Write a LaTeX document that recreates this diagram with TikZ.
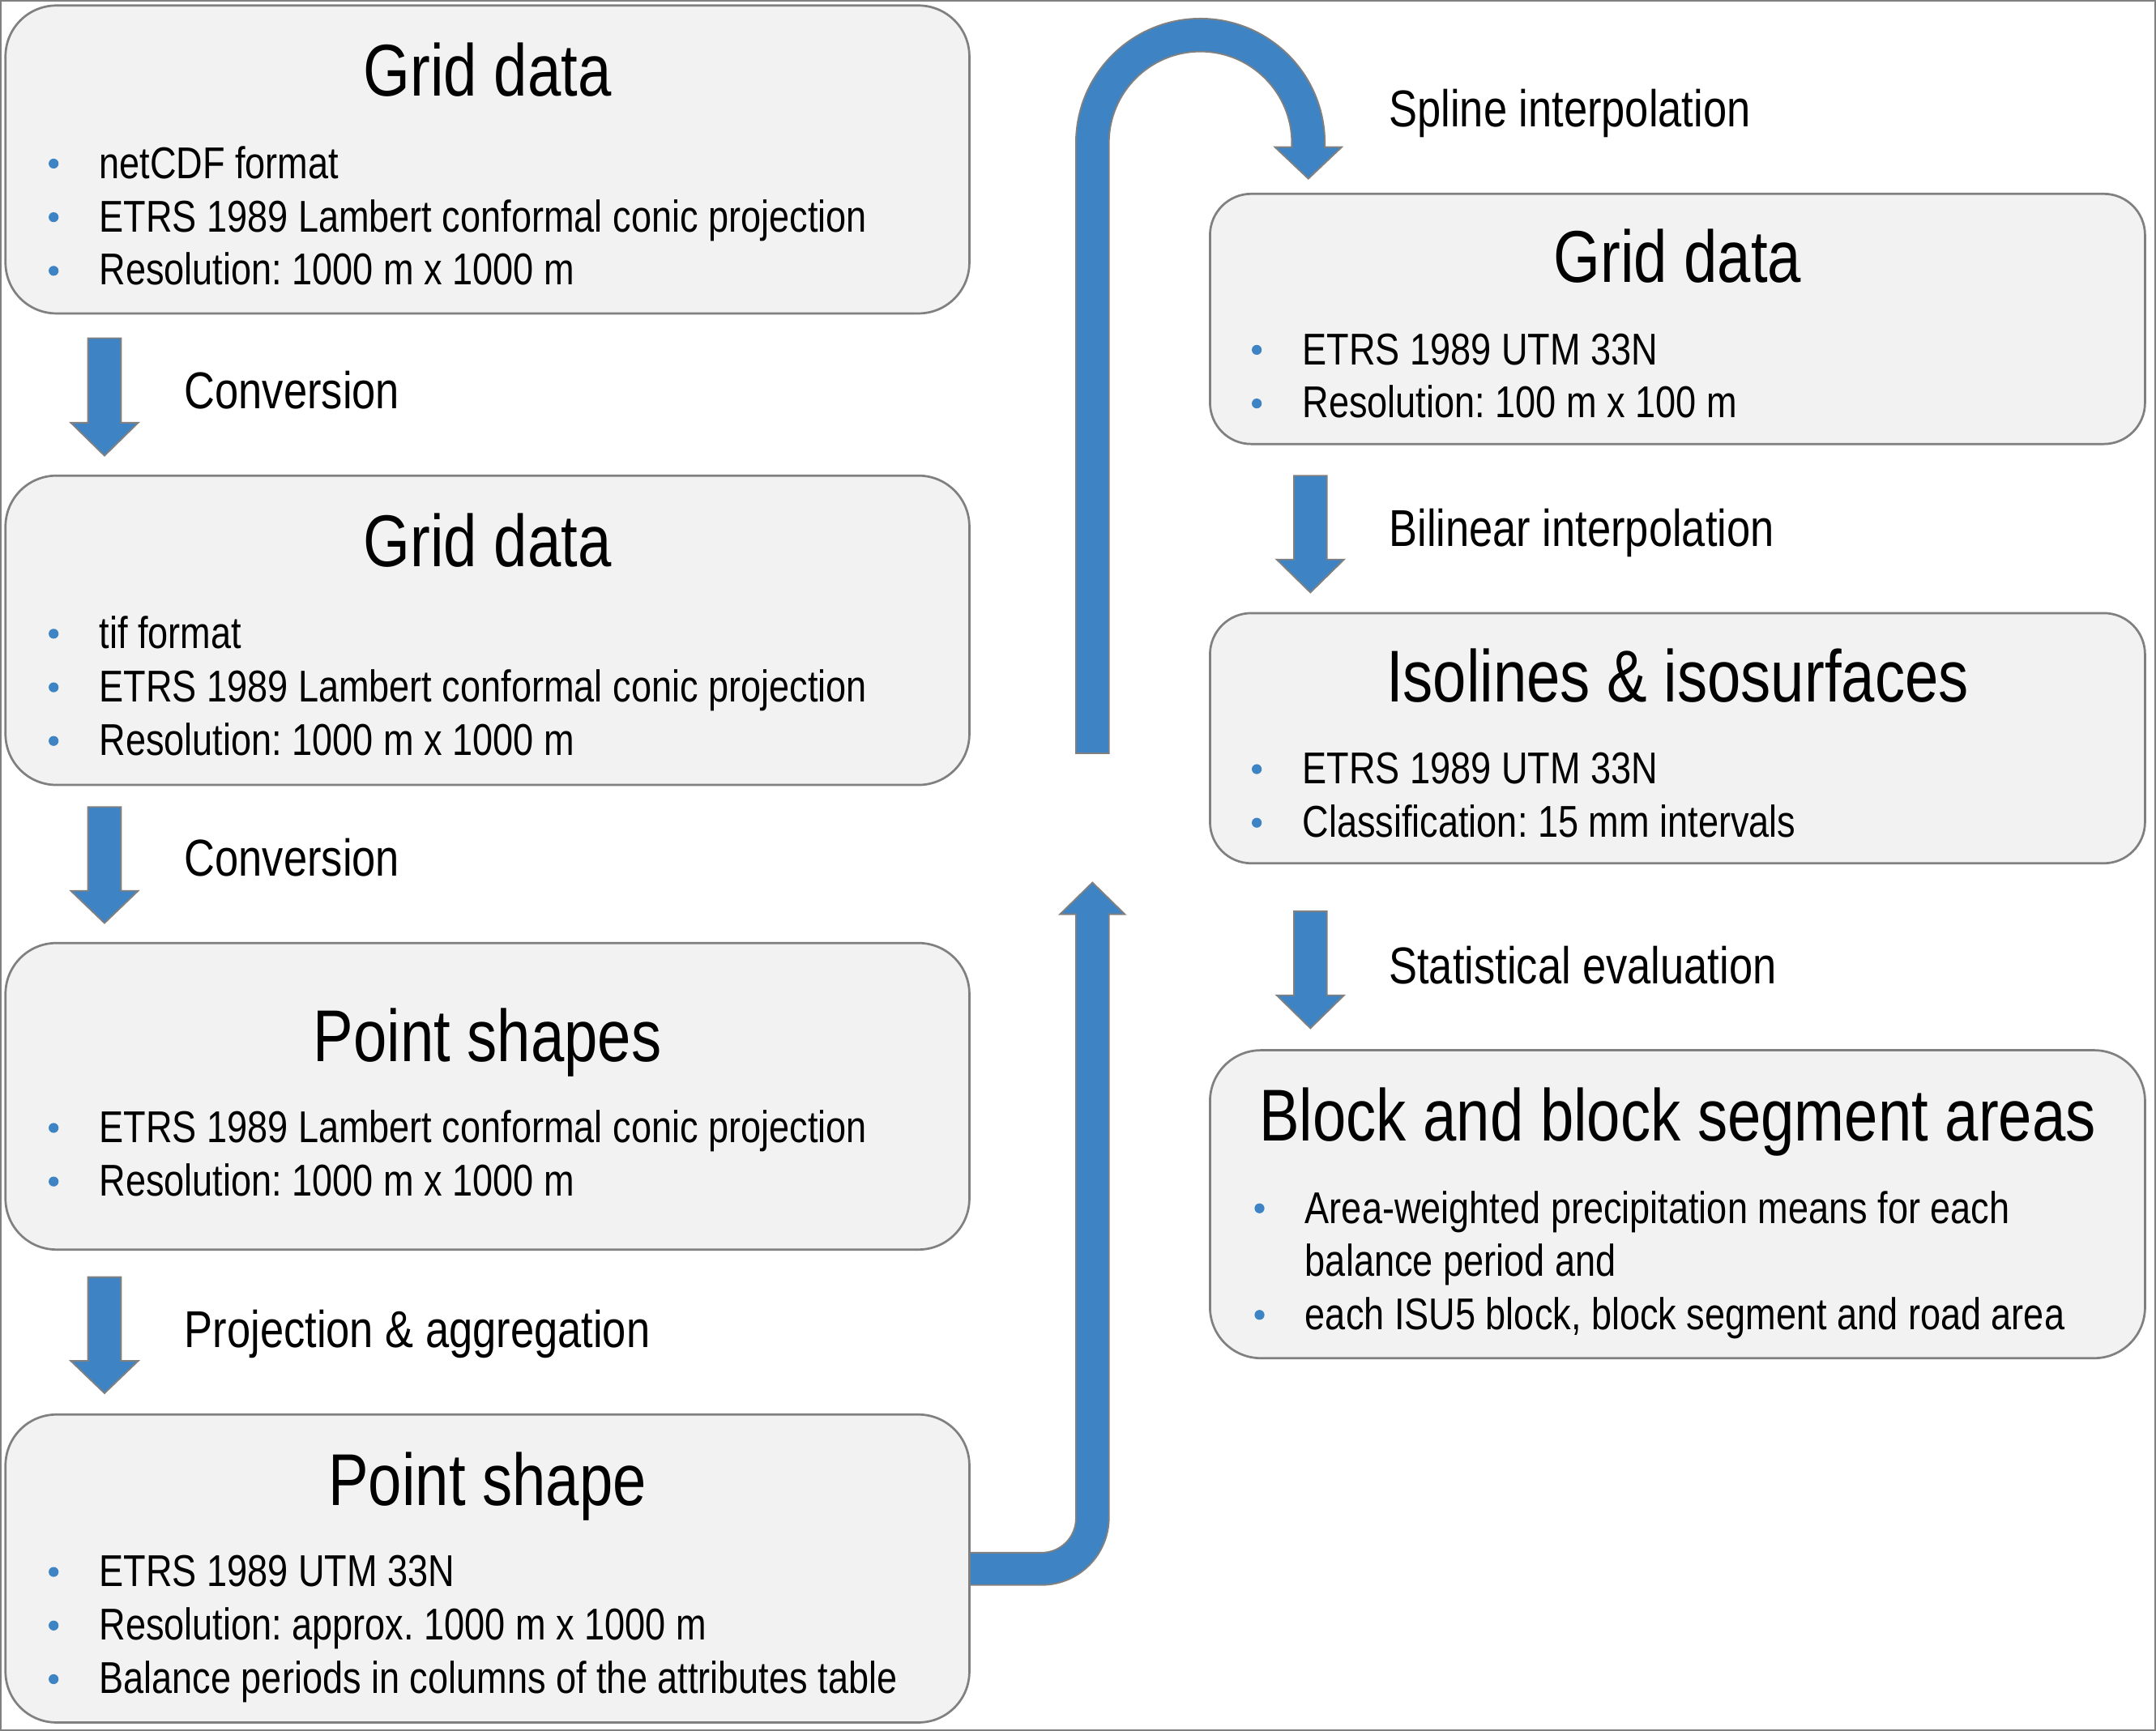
\documentclass[tikz,border=0pt]{standalone}
\usepackage{fontspec}
\setmainfont{Liberation Sans}[FakeStretch=0.82]
\frenchspacing
\definecolor{arrblue}{RGB}{62,132,196}
\definecolor{boxfill}{RGB}{242,242,242}
\definecolor{edgegray}{RGB}{128,128,128}
\tikzset{
  box/.style={draw=edgegray, line width=1.6pt, fill=boxfill, rectangle, rounded corners=37pt, inner sep=0pt},
  sbox/.style={box, rounded corners=30pt},
  ttl/.style={inner sep=0pt, anchor=base, font=\fontsize{53.4}{60}\selectfont\frenchspacing},
  btxt/.style={inner sep=0pt, anchor=base west, font=\fontsize{32.4}{38}\selectfont\frenchspacing},
  lbl/.style={inner sep=0pt, anchor=base west, font=\fontsize{37.7}{44}\selectfont\frenchspacing},
  bul/.style={fill=arrblue},
  barrow/.style={fill=arrblue, draw=edgegray, line width=1.1pt, line join=miter},
}
\newcommand\dnblockarrow[4]{%
  \draw[barrow] (#1-12,#2) -- (#1+12,#2) -- (#1+12,#3) -- (#1+24.5,#3) -- (#1,#4) -- (#1-24.5,#3) -- (#1-12,#3) -- cycle;}
\begin{document}
\begin{tikzpicture}[x=1pt, y=-1pt]
\useasboundingbox (0,0) rectangle (1568,1259);
\draw[edgegray, line width=1pt] (0.5,0.5) rectangle (1567.5,1258.5);

% ---- block arrows (drawn first, boxes overlap their ends)
\dnblockarrow{76}{246}{307.5}{331.5}
\dnblockarrow{76}{587}{648}{671.5}
\dnblockarrow{76}{929}{990}{1013.5}
\dnblockarrow{953}{346}{407}{431}
\dnblockarrow{953}{663}{724}{748}

% bent arrow from Point shape box upward
\coordinate (bentend) at (794.5,642);
\draw[barrow] (705,1129.5) -- (757.5,1129.5) arc[start angle=-90, end angle=0, radius=25pt]
  -- (782.5,665) -- (771,665) -- (bentend) -- (818,665) -- (806.5,665) -- (806.5,1104)
  arc[start angle=0, end angle=-90, radius=49pt] -- (705,1153) -- cycle;

% U-turn arrow into upper Grid data box
\coordinate (uturnstart) at (794.5,548);
\draw[barrow] (782.5,548) -- (782.5,104) arc[start angle=180, end angle=0, radius=90.5pt]
  -- (963.5,107) -- (975.8,107) -- (951.5,130) -- (927.2,107) -- (939.5,107) -- (939.5,104)
  arc[start angle=0, end angle=180, radius=66.5pt] -- (806.5,548) -- cycle;

% ---- left column boxes
\node[box, minimum width=701pt, minimum height=224pt] (A) at (354.5,116) {};
\node[ttl] (At) at (354.5,70) {Grid data};
\fill[bul] (39,119) circle[radius=3.6pt];
\fill[bul] (39,158) circle[radius=3.6pt];
\fill[bul] (39,197) circle[radius=3.6pt];
\node[btxt] (A1) at (72,129.7) {netCDF format};
\node[btxt] (A2) at (72,168.6) {ETRS 1989 Lambert conformal conic projection};
\node[btxt] (A3) at (72,207.4) {Resolution: 1000 m x 1000 m};

\node[lbl] (L1) at (134,297.5) {Conversion};

\node[box, minimum width=701pt, minimum height=225pt] (B) at (354.5,458.5) {};
\node[ttl] (Bt) at (354.5,412) {Grid data};
\fill[bul] (39,461) circle[radius=3.6pt];
\fill[bul] (39,500) circle[radius=3.6pt];
\fill[bul] (39,539) circle[radius=3.6pt];
\node[btxt] (B1) at (72,471.7) {tif format};
\node[btxt] (B2) at (72,510.6) {ETRS 1989 Lambert conformal conic projection};
\node[btxt] (B3) at (72,549.4) {Resolution: 1000 m x 1000 m};

\node[lbl] (L2) at (134,637.5) {Conversion};

\node[box, minimum width=701pt, minimum height=223pt] (C) at (354.5,797.5) {};
\node[ttl] (Ct) at (354.5,772) {Point shapes};
\fill[bul] (39,820.5) circle[radius=3.6pt];
\fill[bul] (39,859.5) circle[radius=3.6pt];
\node[btxt] (C1) at (72,831.2) {ETRS 1989 Lambert conformal conic projection};
\node[btxt] (C2) at (72,870) {Resolution: 1000 m x 1000 m};

\node[lbl] (L3) at (134,980) {Projection \& aggregation};

\node[box, minimum width=701pt, minimum height=224pt] (D) at (354.5,1141) {};
\node[ttl] (Dt) at (354.5,1095) {Point shape};
\fill[bul] (39,1143.5) circle[radius=3.6pt];
\fill[bul] (39,1182.5) circle[radius=3.6pt];
\fill[bul] (39,1221.5) circle[radius=3.6pt];
\node[btxt] (D1) at (72,1154.2) {ETRS 1989 UTM 33N};
\node[btxt] (D2) at (72,1193.1) {Resolution: approx. 1000 m x 1000 m};
\node[btxt] (D3) at (72,1232) {Balance periods in columns of the attributes table};

% ---- right column boxes
\node[lbl] (R0) at (1010,92.5) {Spline interpolation};

\node[sbox, minimum width=680pt, minimum height=182pt] (E) at (1220,232) {};
\node[ttl] (Et) at (1220,205.5) {Grid data};
\fill[bul] (914,254.5) circle[radius=3.6pt];
\fill[bul] (914,293.5) circle[radius=3.6pt];
\node[btxt] (E1) at (947,265.2) {ETRS 1989 UTM 33N};
\node[btxt] (E2) at (947,304) {Resolution: 100 m x 100 m};

\node[lbl] (R1) at (1010,397.5) {Bilinear interpolation};

\node[sbox, minimum width=680pt, minimum height=182pt] (F) at (1220,537) {};
\node[ttl] (Ft) at (1220,510.5) {Isolines \& isosurfaces};
\fill[bul] (914,559.5) circle[radius=3.6pt];
\fill[bul] (914,598.5) circle[radius=3.6pt];
\node[btxt] (F1) at (947,570.2) {ETRS 1989 UTM 33N};
\node[btxt] (F2) at (947,609) {Classification: 15 mm intervals};

\node[lbl] (R2) at (1010,715.5) {Statistical evaluation};

\node[box, minimum width=680pt, minimum height=224pt] (G) at (1220,876) {};
\node[ttl] (Gt) at (1220,830) {Block and block segment areas};
\fill[bul] (916,879) circle[radius=3.6pt];
\fill[bul] (916,956.5) circle[radius=3.6pt];
\node[btxt] (G1) at (949,889.8) {Area-weighted precipitation means for each};
\node[btxt] (G2) at (949,928.6) {balance period and};
\node[btxt] (G3) at (949,967.4) {each ISU5 block, block segment and road area};
\end{tikzpicture}
\end{document}
